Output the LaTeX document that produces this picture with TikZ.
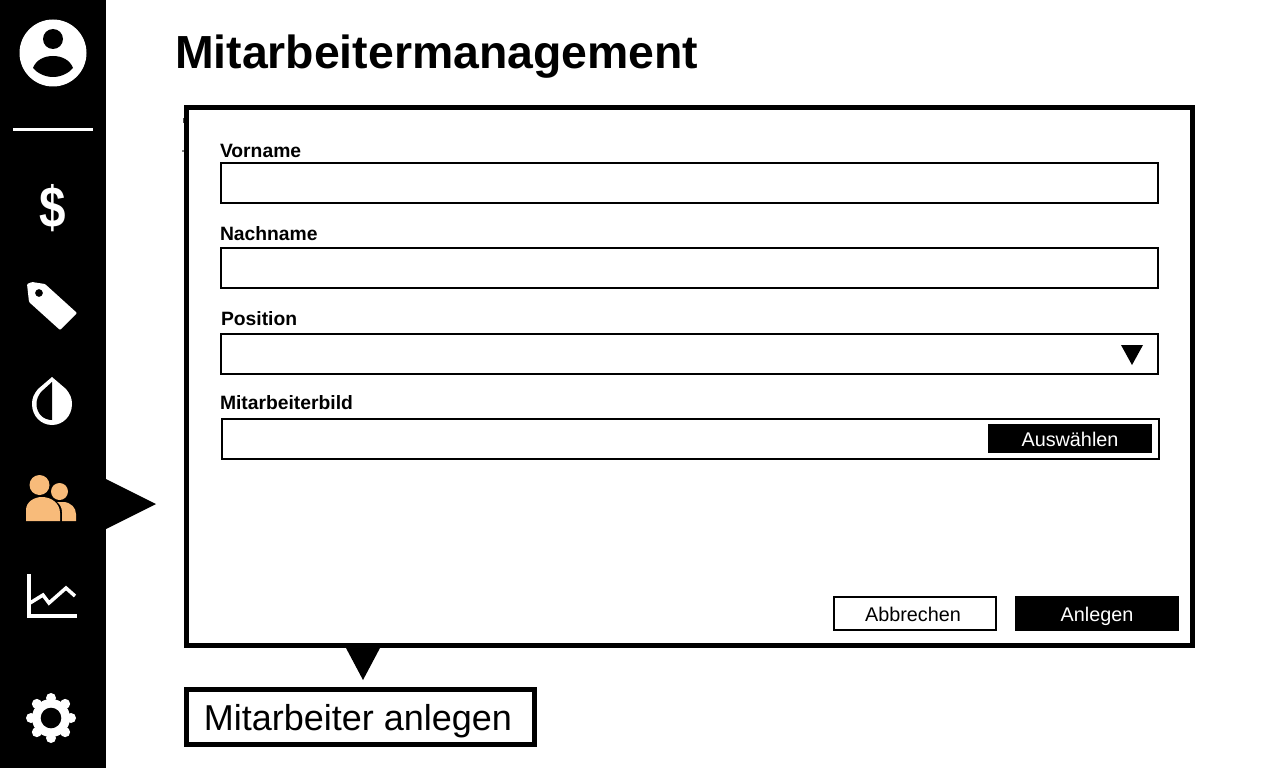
\documentclass[tikz,border=0pt]{standalone}
\usepackage{fontspec}
\setmainfont{Liberation Sans}
\usepackage{tikz}
\usetikzlibrary{positioning}
\definecolor{iconorange}{HTML}{F8BB7A}
\tikzset{
  every node/.style={outer sep=0pt},
  inputbox/.style={rectangle, draw=black, line width=2pt, fill=white, anchor=north west, inner sep=0pt},
  fieldlabel/.style={anchor=base west, inner sep=0pt, font=\fontsize{19.3}{24}\selectfont\bfseries},
  darkbutton/.style={rectangle, fill=black, text=white, anchor=north west, inner sep=0pt, text height=18pt, text depth=3pt, font=\fontsize{19.8}{24}\selectfont},
  lightbutton/.style={rectangle, draw=black, line width=2pt, fill=white, anchor=north west, inner sep=0pt, text height=18pt, text depth=3pt, font=\fontsize{19.8}{24}\selectfont},
}
\begin{document}
\begin{tikzpicture}[x=1pt, y=-1pt]
\useasboundingbox (0,0) rectangle (1280,768);
% sidebar
\fill[black] (0,0) rectangle (106,768);
\fill[black] (106,479) -- (156,504) -- (106,529) -- cycle;
% profile
\fill[white] (53,53) circle[radius=33.5];
\fill[black] (53,39) circle[radius=10];
\fill[black] (33,68) .. controls (36,60) and (44,56) .. (53,56) .. controls (62,56) and (70,60) .. (73,68) .. controls (69,73) and (61,77) .. (53,77) .. controls (45,77) and (37,73) .. (33,68) -- cycle;
\draw[white, line width=3pt] (13,129) -- (93,129);
% dollar
\node[text=white, inner sep=0pt, font=\fontsize{58}{60}\selectfont\bfseries] (dollaricon) at (53,208) {\scalebox{0.82}[1]{\$}};
% tag
\fill[white, even odd rule, rounded corners=1pt] (27,284) -- (32,282) -- (45,284) -- (77,313) -- (60,330) -- (29,302) -- cycle (39,293) circle[radius=4];
% drop
\fill[white] (52,377) -- (66,389) .. controls (70,394) and (72,398) .. (72,404) .. controls (72,416) and (63,425) .. (52,425) .. controls (41,425) and (32,416) .. (32,404) .. controls (32,398) and (34,394) .. (38,389) -- cycle;
\fill[black] (52,382) -- (41,392) .. controls (38,396) and (36.5,400) .. (36.5,404) .. controls (36.5,413) and (43,420) .. (52,420) -- cycle;
% people
\fill[iconorange] (39.5,485) circle[radius=10];
\fill[iconorange] (59.5,491.5) circle[radius=8.5];
\fill[iconorange] (26,521) -- (26,510) .. controls (26,502) and (34,497) .. (42,497) .. controls (51,497) and (60,503) .. (60,513) -- (60,521) -- cycle;
\fill[iconorange] (62,521) -- (62,512) .. controls (62,508) and (60,504) .. (57,502) -- (63,502) .. controls (71,502) and (76,508) .. (76,514) -- (76,521) -- cycle;
% chart
\draw[white, line width=4pt] (29,574) -- (29,616) -- (77,616);
\draw[white, line width=3.5pt] (30,603) -- (43,595) -- (49,603) -- (66,588) -- (75,596);
% gear
\fill[white] (51,718) circle[radius=19];
\foreach \gearangle in {0,45,...,315} {
  \fill[white] (51,718) ++(\gearangle:20) circle[radius=5];
}
\fill[black] (51,718) circle[radius=10.3];
% title
\node[anchor=base west, inner sep=0pt, font=\fontsize{46.4}{54}\selectfont\bfseries] (title) at (175,69) {Mitarbeitermanagement};
% marks behind the dialog
\fill[black!70] (183,118) rectangle (185,123);
\fill[black!50] (182,150) rectangle (185,152);
% dialog
\node[rectangle, draw=black, line width=5pt, fill=white, anchor=north west, inner sep=0pt, minimum width=1006pt, minimum height=538pt] (dialog) at (186.5,107.5) {};
\fill[black] (346,648) -- (380,648) -- (363,680) -- cycle;
\node[rectangle, draw=black, line width=5pt, anchor=north west, inner sep=0pt, minimum width=348pt, minimum height=55pt, text height=30pt, text depth=4pt, font=\fontsize{36}{40}\selectfont] (dialoglabel) at (186.5,689.5) {\hspace{-5pt}Mitarbeiter anlegen};
% form
\node[fieldlabel] (vornamelabel) at (220,157) {Vorname};
\node[inputbox, minimum width=937pt, minimum height=40pt] (vorname) at (221,163) {};
\node[fieldlabel] (nachnamelabel) at (220,240) {Nachname};
\node[inputbox, minimum width=937pt, minimum height=40pt] (nachname) at (221,248) {};
\node[fieldlabel] (positionlabel) at (221,325) {Position};
\node[inputbox, minimum width=937pt, minimum height=40pt] (position) at (221,334) {};
\fill[black] (1121,345) -- (1143,345) -- (1132,365) -- cycle;
\node[fieldlabel] (bildlabel) at (220,409) {Mitarbeiterbild};
\node[inputbox, minimum width=937pt, minimum height=40pt] (bild) at (222,419) {};
\node[darkbutton, minimum width=164pt, minimum height=29pt] (auswahl) at (988,424) {Auswählen};
\node[lightbutton, minimum width=162pt, minimum height=33pt] (abbrechen) at (834,597) {\hspace{-4pt}Abbrechen};
\node[darkbutton, minimum width=164pt, minimum height=35pt] (anlegen) at (1015,596) {Anlegen};
\end{tikzpicture}
\end{document}
